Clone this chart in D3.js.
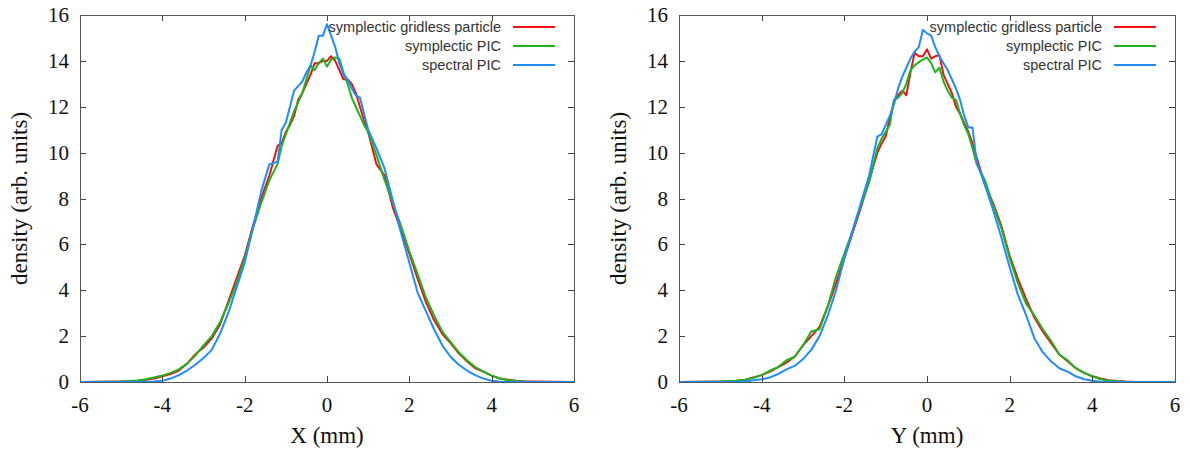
<!DOCTYPE html>
<html>
<head>
<meta charset="utf-8">
<script src="https://cdn.jsdelivr.net/npm/d3@7"></script>
<style>
  body { margin: 0; background: #fff; }
  .tick-label { font-family: "Liberation Serif", "DejaVu Serif", serif; font-size: 21px; fill: #111; }
  .axis-title { font-family: "Liberation Serif", "DejaVu Serif", serif; font-size: 23px; fill: #111; }
  .legend-label { font-family: "Liberation Sans", Arial, sans-serif; font-size: 14.5px; fill: #333; }
</style>
</head>
<body>
<div id="chart"></div>
<script>
// bin centres (mm), shared by every curve
const binX = [-6, -5, -4.8, -4.6, -4.4, -4.2, -4, -3.8, -3.6, -3.4, -3.2, -3, -2.8, -2.6, -2.4, -2.2, -2, -1.8, -1.6, -1.4,
  -1.2, -1.1, -1, -0.9, -0.8, -0.7, -0.6, -0.5, -0.4, -0.3, -0.2, -0.1, 0, 0.1, 0.2, 0.3, 0.4, 0.5, 0.6, 0.7, 0.8, 0.9, 1, 1.1, 1.2,
  1.4, 1.6, 1.8, 2, 2.2, 2.4, 2.6, 2.8, 3, 3.2, 3.4, 3.6, 3.8, 4, 4.2, 4.4, 4.6, 4.8, 5, 6];

// X panel
const xGridless = [0, 0.02, 0.03, 0.05, 0.1, 0.15, 0.25, 0.35, 0.5, 0.8, 1.2, 1.5, 1.9, 2.5, 3.5, 4.5, 5.5, 6.8, 8.0, 9.0,
  10.3, 10.4, 10.9, 11.2, 11.6, 12.3, 12.6, 13.0, 13.4, 13.9, 13.9, 14.0, 14.0, 14.2, 14.0, 13.6, 13.2, 13.2, 13.0, 12.6, 12.0, 11.4, 10.9, 10.2, 9.5,
  9.0, 7.6, 6.6, 5.6, 4.5, 3.5, 2.7, 2.1, 1.7, 1.25, 0.9, 0.6, 0.45, 0.28, 0.15, 0.1, 0.05, 0.03, 0.02, 0];
const xSympPIC = [0, 0.02, 0.04, 0.07, 0.12, 0.2, 0.28, 0.4, 0.55, 0.8, 1.15, 1.6, 2.0, 2.6, 3.4, 4.3, 5.4, 6.7, 7.8, 8.8,
  9.5, 10.3, 10.8, 11.3, 11.8, 12.2, 12.6, 13.2, 13.8, 13.6, 13.9, 14.1, 13.75, 14.05, 14.15, 14.1, 13.5, 13.0, 12.4, 12.0, 11.6, 11.2, 10.9, 10.4, 9.9,
  8.8, 7.8, 6.8, 5.7, 4.7, 3.7, 2.9, 2.2, 1.75, 1.3, 0.95, 0.65, 0.45, 0.28, 0.15, 0.08, 0.04, 0.02, 0.01, 0];
const xSpectralPIC = [0, 0, 0, 0, 0, 0.02, 0.05, 0.15, 0.3, 0.5, 0.75, 1.05, 1.4, 2.1, 3.0, 4.1, 5.2, 6.7, 8.3, 9.5,
  9.6, 11.0, 11.3, 12.0, 12.7, 12.9, 13.1, 13.5, 13.8, 14.4, 15.1, 15.1, 15.6, 15.1, 14.6, 13.9, 13.4, 13.2, 12.8, 12.5, 12.4, 11.7, 11.0, 10.6, 10.2,
  9.3, 7.9, 6.5, 5.2, 3.9, 3.1, 2.3, 1.6, 1.1, 0.75, 0.5, 0.3, 0.15, 0.05, 0.01, 0, 0, 0, 0, 0];

// Y panel
const yGridless = [0, 0.02, 0.03, 0.05, 0.1, 0.2, 0.3, 0.45, 0.65, 0.85, 1.1, 1.6, 2.0, 2.4, 3.3, 4.3, 5.4, 6.5, 7.6, 8.8,
  10.0, 10.4, 10.7, 11.5, 12.2, 12.5, 12.7, 12.5, 13.5, 14.35, 14.2, 14.2, 14.5, 14.1, 14.2, 14.25, 13.4, 13.0, 12.6, 12.0, 11.7, 11.3, 10.9, 10.4, 9.8,
  8.6, 7.8, 6.8, 5.5, 4.5, 3.6, 2.8, 2.2, 1.7, 1.2, 0.9, 0.6, 0.4, 0.25, 0.15, 0.08, 0.04, 0.02, 0.01, 0];
const ySympPIC = [0, 0.02, 0.04, 0.06, 0.1, 0.18, 0.3, 0.5, 0.65, 0.95, 1.1, 1.6, 2.2, 2.3, 3.3, 4.6, 5.6, 6.6, 7.7, 8.7,
  10.2, 10.6, 10.9, 11.2, 12.3, 12.4, 12.6, 13.0, 13.6, 13.8, 13.95, 14.05, 14.15, 13.9, 13.5, 13.7, 13.1, 12.7, 12.4, 12.3, 11.7, 11.2, 10.8, 10.2, 9.5,
  8.8, 7.7, 6.7, 5.4, 4.3, 3.4, 2.9, 2.3, 1.8, 1.2, 0.95, 0.6, 0.4, 0.25, 0.12, 0.06, 0.03, 0.01, 0, 0];
const ySpectralPIC = [0, 0, 0, 0, 0.02, 0.08, 0.12, 0.2, 0.35, 0.55, 0.7, 1.0, 1.4, 2.0, 2.9, 4.0, 5.4, 6.6, 7.8, 9.0,
  10.7, 10.8, 11.2, 11.6, 12.1, 12.8, 13.3, 13.7, 14.1, 14.4, 14.6, 15.35, 15.2, 15.1, 14.6, 14.2, 13.9, 13.6, 13.2, 12.8, 12.3, 11.6, 11.1, 11.1, 9.6,
  8.6, 7.5, 6.3, 5.0, 3.8, 2.9, 1.9, 1.3, 0.9, 0.6, 0.45, 0.25, 0.12, 0.05, 0.01, 0, 0, 0, 0, 0];

const seriesNames = ['symplectic gridless particle', 'symplectic PIC', 'spectral PIC'];
const seriesColors = ['#f01010', '#1eb41e', '#1e8cff'];
const xTicks = [-6, -4, -2, 0, 2, 4, 6];
const yTicks = [0, 2, 4, 6, 8, 10, 12, 14, 16];

const svg = d3.select('#chart').append('svg')
    .attr('width', 1190)
    .attr('height', 452);

function drawPanel(cfg) {
  const x = d3.scaleLinear().domain([-6, 6]).range([cfg.left, cfg.right]);
  const y = d3.scaleLinear().domain([0, 16]).range([cfg.bottom, cfg.top]);
  const g = svg.append('g');
  const tickLen = 6;

  // curves
  const line = d3.line().x(d => x(d[0])).y(d => y(d[1]));
  cfg.series.forEach((vals, i) => {
    g.append('path')
        .datum(binX.map((bx, j) => [bx, vals[j]]))
        .attr('fill', 'none')
        .attr('stroke', seriesColors[i])
        .attr('stroke-width', 2)
        .attr('stroke-linejoin', 'round')
        .attr('d', line);
  });

  // ticks on all four sides, pointing inward (gnuplot style)
  const ticks = g.append('g').attr('stroke', '#444').attr('stroke-width', 1);
  yTicks.forEach(t => {
    const yy = Math.round(y(t)) + 0.5;
    ticks.append('line').attr('x1', cfg.left).attr('x2', cfg.left + tickLen).attr('y1', yy).attr('y2', yy);
    ticks.append('line').attr('x1', cfg.right).attr('x2', cfg.right - tickLen).attr('y1', yy).attr('y2', yy);
  });
  xTicks.forEach(t => {
    const xx = Math.round(x(t)) + 0.5;
    ticks.append('line').attr('x1', xx).attr('x2', xx).attr('y1', cfg.bottom).attr('y2', cfg.bottom - tickLen);
    ticks.append('line').attr('x1', xx).attr('x2', xx).attr('y1', cfg.top).attr('y2', cfg.top + tickLen);
  });

  g.append('rect')
      .attr('x', cfg.left + 0.5).attr('y', cfg.top + 0.5)
      .attr('width', cfg.right - cfg.left).attr('height', cfg.bottom - cfg.top)
      .attr('fill', 'none').attr('stroke', '#555').attr('stroke-width', 1);

  // tick labels
  g.selectAll('.ylab').data(yTicks).join('text')
      .attr('class', 'tick-label')
      .attr('text-anchor', 'end')
      .attr('x', cfg.left - 11)
      .attr('y', d => y(d) + 7)
      .text(d => d);
  g.selectAll('.xlab').data(xTicks).join('text')
      .attr('class', 'tick-label')
      .attr('text-anchor', 'middle')
      .attr('x', d => x(d))
      .attr('y', cfg.bottom + 30)
      .text(d => d);

  // axis titles
  g.append('text')
      .attr('class', 'axis-title')
      .attr('text-anchor', 'middle')
      .attr('x', x(0))
      .attr('y', cfg.bottom + 61)
      .text(cfg.xTitle);
  g.append('text')
      .attr('class', 'axis-title')
      .attr('text-anchor', 'middle')
      .attr('transform', `translate(${cfg.left - 53},${(cfg.top + cfg.bottom) / 2}) rotate(-90)`)
      .text('density (arb. units)');

  // legend
  const legend = g.append('g');
  seriesNames.forEach((name, i) => {
    const ly = cfg.top + 12 + i * 19;
    legend.append('text')
        .attr('class', 'legend-label')
        .attr('text-anchor', 'end')
        .attr('x', cfg.right - 73)
        .attr('y', ly + 5)
        .text(name);
    legend.append('line')
        .attr('x1', cfg.right - 61).attr('x2', cfg.right - 19)
        .attr('y1', ly).attr('y2', ly)
        .attr('stroke', seriesColors[i]).attr('stroke-width', 2);
  });
}

drawPanel({left: 80, right: 574, top: 15, bottom: 382, xTitle: 'X (mm)',
  series: [xGridless, xSympPIC, xSpectralPIC]});
drawPanel({left: 679, right: 1175, top: 15, bottom: 382, xTitle: 'Y (mm)',
  series: [yGridless, ySympPIC, ySpectralPIC]});
</script>
</body>
</html>
